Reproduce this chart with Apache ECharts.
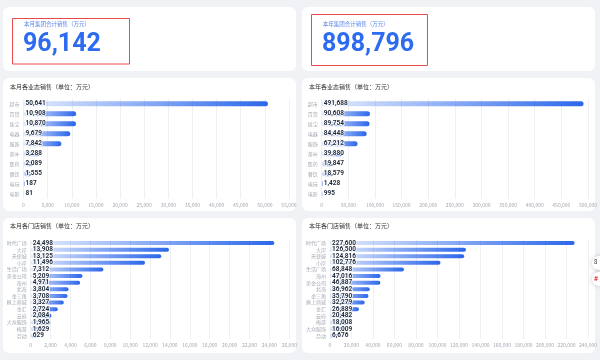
<!DOCTYPE html>
<html><head><meta charset="utf-8">
<script src="https://cdn.jsdelivr.net/npm/echarts@6/dist/echarts.min.js"></script>
<style>html,body{margin:0;padding:0;background:#f0f2f5;}#c{width:600px;height:360px;}</style>
</head><body><div id="c"></div>
<script>
var totalMonth = '96,142';
var totalYear = '898,796';
var bizCats = ['超市','百货','珠宝','电器','服饰','茶叶','医药','餐饮','电玩','电影'];
var bizMonth = [50641,10908,10870,9679,7842,3288,2089,1555,187,81];
var bizYear = [491688,90608,89754,84448,67212,39880,19847,18579,1428,995];
var storeCatsMonth = ['时代广场','大岸','天使城','小岸','生活广场','美金公司','海州','北海','金三角','枫上商城','金汇','云府','大众服饰','梅游','劳动'];
var storeMonth = [24498,13908,13125,11496,7312,5209,4971,3804,3708,3327,2724,2084,1965,1629,629];
var storeCatsYear = ['时代广场','大岸','天使城','小岸','生活广场','海州','美金公司','北海','金三角','枫上商城','金汇','云府','梅游','大众服饰','劳动'];
var storeYear = [227600,126500,124816,102776,68848,47016,46887,36962,35790,32279,26889,20482,18008,16009,6676];

var FONT = '"Noto Sans CJK SC", "Noto Sans", sans-serif';
var chart = echarts.init(document.getElementById('c'), null, {renderer:'canvas'});
function fmt(v){return Number(v).toLocaleString('en-US');}
var grad = new echarts.graphic.LinearGradient(0,0,1,0,[{offset:0,color:'rgba(47,107,236,0.12)'},{offset:1,color:'#2c66ea'}]);

var grids = [
  {left:23.5, top:98.7, width:265.5, height:100},
  {left:321.7, top:98.7, width:266.6, height:100},
  {left:30.7, top:239.7, width:258.6, height:99.3},
  {left:330, top:239.7, width:258, height:99.3}
];
var xCfg = [[55000,5000],[500000,50000],[26000,2000],[240000,20000]];
var yCats = [bizCats,bizCats,storeCatsMonth,storeCatsYear];
var vals = [bizMonth,bizYear,storeMonth,storeYear];
var bw = [5,5,4,4];

var xAxis=[], yAxis=[], series=[];
for (var i=0;i<4;i++){
  xAxis.push({type:'value',gridIndex:i,min:0,max:xCfg[i][0],interval:xCfg[i][1],
    axisLine:{show:false},axisTick:{show:false},
    axisLabel:{fontSize:5,color:'#a3a8b0',margin:4,fontFamily:FONT,formatter:function(v){return fmt(v);}},
    splitLine:{lineStyle:{color:'#eef0f3',width:1}}});
  yAxis.push({type:'category',gridIndex:i,data:yCats[i],inverse:true,
    axisLine:{show:false},axisTick:{show:false},splitLine:{show:false},
    axisLabel:{fontSize:5,color:'#a3a8b0',margin:4,interval:0,fontFamily:FONT}});
  series.push({type:'bar',xAxisIndex:i,yAxisIndex:i,data:vals[i],barWidth:bw[i],
    itemStyle:{color:grad,borderRadius:3},
    label:{show:true,position:'insideLeft',offset:[-3,0],fontSize:6.5,fontWeight:'bold',color:'#1f2a3a',
      textBorderColor:'#ffffff',textBorderWidth:1.5,fontFamily:'Roboto, sans-serif',
      formatter:function(p){return fmt(p.value);}}});
}

function card(x,y,w,h){return {type:'rect',shape:{x:x,y:y,width:w,height:h,r:6},style:{fill:'#ffffff'},z:-10,silent:true};}
var graphic = [
  card(3,7,293,64), card(302,7,293,64),
  card(3,78,293,133), card(302,78,293,133),
  card(3,218,293,135), card(302,218,293,135),
  {type:'rect',shape:{x:12.5,y:18.5,width:117,height:45.5},style:{fill:null,stroke:'#e84a4a',lineWidth:1},z:5},
  {type:'rect',shape:{x:311.5,y:14.5,width:116,height:51},style:{fill:null,stroke:'#e84a4a',lineWidth:1},z:5},
  {type:'text',left:24,top:21,style:{text:'本月集团合计销售（万元）',fontSize:5.5,fill:'#5a86e8',fontFamily:FONT},z:5},
  {type:'text',left:322.7,top:21,style:{text:'本年集团合计销售（万元）',fontSize:5.5,fill:'#5a86e8',fontFamily:FONT},z:5},
  {type:'text',left:23,top:32,style:{text:totalMonth,fontSize:25,fontWeight:'bold',fill:'#2d6bf0',fontFamily:'Roboto, sans-serif'},z:5},
  {type:'text',left:322,top:32,style:{text:totalYear,fontSize:25,fontWeight:'bold',fill:'#2d6bf0',fontFamily:'Roboto, sans-serif'},z:5},
  {type:'text',left:10,top:84,style:{text:'本月各业态销售（单位：万元）',fontSize:6,fill:'#333',fontFamily:FONT},z:5},
  {type:'text',left:309,top:84,style:{text:'本年各业态销售（单位：万元）',fontSize:6,fill:'#333',fontFamily:FONT},z:5},
  {type:'text',left:10,top:223,style:{text:'本月各门店销售（单位：万元）',fontSize:6,fill:'#333',fontFamily:FONT},z:5},
  {type:'text',left:309,top:223,style:{text:'本年各门店销售（单位：万元）',fontSize:6,fill:'#333',fontFamily:FONT},z:5},
  {type:'circle',shape:{cx:599,cy:263,r:7},style:{fill:'#fff',shadowBlur:4,shadowColor:'rgba(0,0,0,0.2)'},z:6},
  {type:'circle',shape:{cx:599,cy:279,r:7},style:{fill:'#fff',shadowBlur:4,shadowColor:'rgba(0,0,0,0.2)'},z:6},
  {type:'text',left:594,top:259,style:{text:'8',fontSize:6,fill:'#333',fontFamily:FONT},z:7},
  {type:'text',left:594,top:275,style:{text:'#',fontSize:7,fill:'#e53935',fontWeight:'bold',fontFamily:FONT},z:7}
];

chart.setOption({
  backgroundColor:'#f0f2f5',
  animation:false,
  grid:grids, xAxis:xAxis, yAxis:yAxis, series:series, graphic:graphic
});
</script></body></html>
